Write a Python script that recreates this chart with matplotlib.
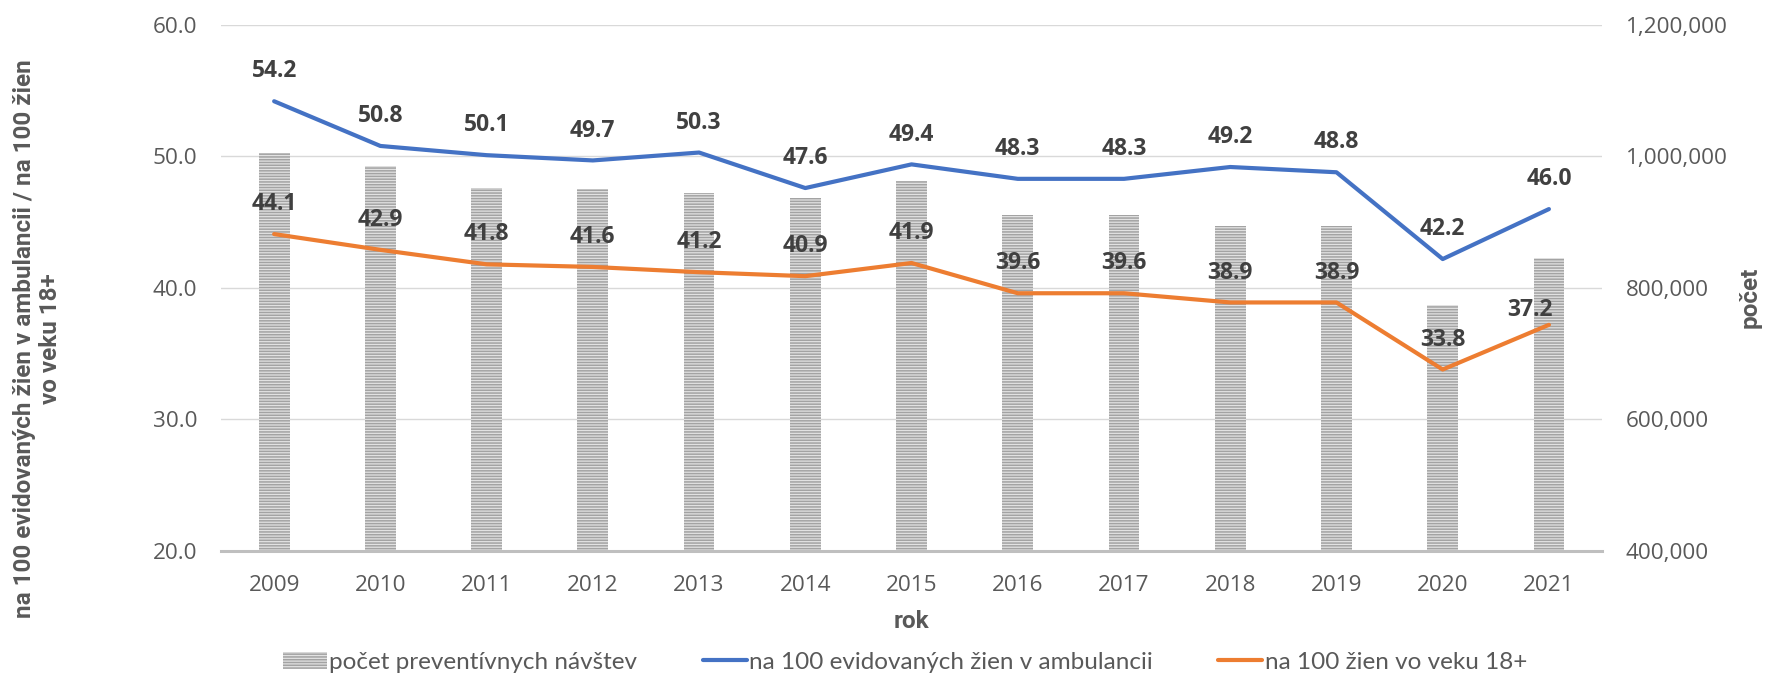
import matplotlib
matplotlib.use("Agg")
import matplotlib.pyplot as plt
from matplotlib.ticker import FuncFormatter, FixedLocator
import numpy as np

years = ["2009", "2010", "2011", "2012", "2013", "2014", "2015", "2016",
         "2017", "2018", "2019", "2020", "2021"]
visits = [1006000, 985000, 952000, 951000, 945000, 937000, 963000,
          911000, 911000, 894000, 895000, 774000, 846000]
per100_ambul = [54.2, 50.8, 50.1, 49.7, 50.3, 47.6, 49.4, 48.3, 48.3,
                49.2, 48.8, 42.2, 46.0]
per100_women = [44.1, 42.9, 41.8, 41.6, 41.2, 40.9, 41.9, 39.6, 39.6,
                38.9, 38.9, 33.8, 37.2]

label_bars = "počet preventívnych návštev"
label_blue = "na 100 evidovaných žien v ambulancii"
label_orange = "na 100 žien vo veku 18+"
left_title = "na 100 evidovaných žien v ambulancii / na 100 žien\nvo veku 18+"
right_title = "počet"
x_title = "rok"

BLUE = "#4472C4"
ORANGE = "#ED7D31"
TICKC = "#595959"
LABC = "#404040"
TICKFONT = "Open Sans"
TITLEFONT = "Roboto"
LEGFONT = "Lato"

plt.rcParams["hatch.linewidth"] = 1.1

fig = plt.figure(figsize=(17.71, 6.75), dpi=100)
rect = [0.1248, 0.1837, 0.9046 - 0.1248, 0.963 - 0.1837]
ax = fig.add_axes(rect)
ax2 = ax.twinx()
ax.set_zorder(2)
ax.patch.set_visible(False)

x = np.arange(len(years))

# bars on secondary axis
ax2.bar(x, visits, width=0.29, color="#e2e2e2", edgecolor="#a3a3a3",
        hatch="------", linewidth=0, zorder=2, label=label_bars)
ax2.set_ylim(400000, 1200000)
ax2.yaxis.set_major_locator(FixedLocator(np.arange(400000, 1200001, 200000)))
ax2.yaxis.set_major_formatter(FuncFormatter(lambda v, p: f"{int(v):,}"))
ax2.set_axisbelow(True)
ax2.yaxis.grid(True, color="#d9d9d9", linewidth=1.0, zorder=0)
ax2.tick_params(axis="y", length=0, pad=17, labelsize=16.2, labelcolor=TICKC)
for lab in ax2.get_yticklabels():
    lab.set_fontfamily(TICKFONT)

# lines on primary axis
ax.plot(x, per100_ambul, color=BLUE, linewidth=3.0, label=label_blue,
        solid_capstyle="round", zorder=3)
ax.plot(x, per100_women, color=ORANGE, linewidth=3.0, label=label_orange,
        solid_capstyle="round", zorder=3)
ax.set_ylim(20, 60)
ax.set_yticks(np.arange(20, 61, 10))
ax.yaxis.set_major_formatter(FuncFormatter(lambda v, p: f"{v:.1f}"))
ax.set_xlim(-0.5, len(years) - 0.5)
ax.set_xticks(x)
ax.set_xticklabels(years)
ax.tick_params(axis="both", length=0, labelsize=16.2, labelcolor=TICKC)
ax.tick_params(axis="y", pad=17)
ax.tick_params(axis="x", pad=17)
for lab in ax.get_yticklabels() + ax.get_xticklabels():
    lab.set_fontfamily(TICKFONT)

for a in (ax, ax2):
    for s in a.spines.values():
        s.set_visible(False)
ax.spines["bottom"].set_visible(True)
ax.spines["bottom"].set_color("#bfbfbf")
ax.spines["bottom"].set_linewidth(2.2)

# data labels
for i, v in enumerate(per100_ambul):
    ax.annotate(f"{v:.1f}", (x[i], v), xytext=(0, 21.5), textcoords="offset points",
                ha="center", va="center", fontsize=16.5, fontweight="bold",
                color=LABC, family=TICKFONT, zorder=5)
for i, v in enumerate(per100_women):
    off = (0, 21.5)
    if i == len(per100_women) - 1:
        off = (-13.5, 11)
    ax.annotate(f"{v:.1f}", (x[i], v), xytext=off, textcoords="offset points",
                ha="center", va="center", fontsize=16.5, fontweight="bold",
                color=LABC, family=TICKFONT, zorder=5)

# axis titles
ax.set_xlabel(x_title, fontsize=17.5, fontweight="bold", color=TICKC,
              family=TITLEFONT, labelpad=10)
fig.text(0.021, 0.498, left_title, rotation=90, ha="center", va="center",
         multialignment="center", fontsize=17.5, fontweight="bold", color=TICKC,
         family=TITLEFONT, linespacing=1.15)
fig.text(0.988, 0.56, right_title, rotation=90, ha="center", va="center",
         fontsize=17.5, fontweight="bold", color=TICKC, family=TITLEFONT)

# legend
h2, l2 = ax2.get_legend_handles_labels()
h1, l1 = ax.get_legend_handles_labels()
leg = fig.legend(h2 + h1, l2 + l1, loc="center", bbox_to_anchor=(0.511, 0.019),
                 ncol=3, frameon=False, handlelength=1.8,
                 handletextpad=0.1, columnspacing=2.7,
                 prop={"family": LEGFONT, "size": 17.5})
for t in leg.get_texts():
    t.set_color(TICKC)

fig.savefig("out.png", dpi=100, facecolor="white")
